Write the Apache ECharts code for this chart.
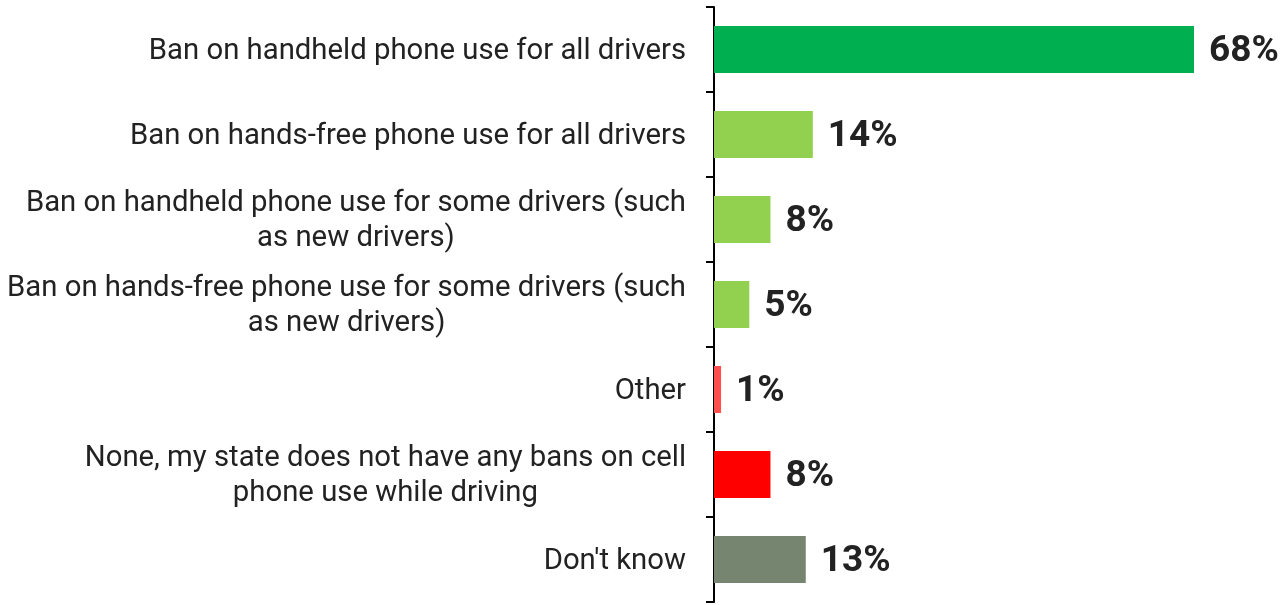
<!DOCTYPE html>
<html>
<head>
<meta charset="utf-8">
<script src="https://cdn.jsdelivr.net/npm/echarts@6/dist/echarts.min.js"></script>
<style>
  html, body { margin: 0; padding: 0; background: #ffffff; }
  #chart { width: 1287px; height: 605px; }
</style>
</head>
<body>
<div id="chart"></div>
<script>
// Survey answers, top to bottom
const categories = [
  'Ban on handheld phone use for all drivers',
  'Ban on hands-free phone use for all drivers',
  'Ban on handheld phone use for some drivers (such\nas new drivers)',
  'Ban on hands-free phone use for some drivers (such\nas new drivers)',
  'Other',
  'None, my state does not have any bans on cell\nphone use while driving',
  "Don't know"
];
const values = [68, 14, 8, 5, 1, 8, 13];
const barColors = ['#00b050', '#92d050', '#92d050', '#92d050', '#ff4f4f', '#ff0000', '#768570'];

const chart = echarts.init(document.getElementById('chart'));
chart.setOption({
  animation: false,
  grid: { left: 714, top: 7, bottom: 3, width: 480 * 70 / 68 },
  xAxis: {
    type: 'value', min: 0, max: 70, show: false
  },
  yAxis: {
    type: 'category',
    inverse: true,
    data: categories,
    axisLine: { show: true, lineStyle: { color: '#000000', width: 2 } },
    axisTick: { show: true, length: 8, lineStyle: { color: '#000000', width: 2 } },
    axisLabel: {
      margin: 28,
      color: '#222222',
      fontFamily: 'Roboto',
      fontSize: 29.3,
      lineHeight: 35,
      padding: [4, 0, 0, 0],
      formatter: function (v) {
        return v.split('\n').map(function (l) { return '{c|' + l + '}'; }).join('\n');
      },
      rich: { c: { align: 'center', fontFamily: 'Roboto', fontSize: 29.3, lineHeight: 35, color: '#222222' } }
    }
  },
  series: [{
    type: 'bar',
    barWidth: 47,
    data: values.map(function (v, i) { return { value: v, itemStyle: { color: barColors[i] } }; }),
    label: {
      show: true,
      position: 'right',
      distance: 15,
      offset: [0, 2],
      formatter: '{c}%',
      fontFamily: 'Roboto',
      fontWeight: 'bold',
      fontSize: 37,
      color: '#222222'
    }
  }]
});
</script>
</body>
</html>
